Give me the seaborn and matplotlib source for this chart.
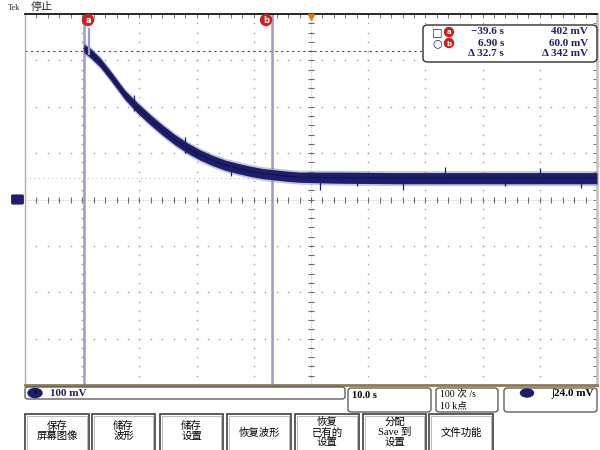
import numpy as np
import matplotlib
matplotlib.use("Agg")
import matplotlib.pyplot as plt
import seaborn as sns
from matplotlib.patches import FancyBboxPatch, Rectangle, Ellipse

sns.set_style("white")
plt.rcParams['font.family'] = ['Liberation Serif', 'Noto Sans CJK SC', 'DejaVu Sans']

W, H = 600, 450

# waveform: time (s), centre of trace (mV), noise half-width (mV)
trace_t = [-39.7, -38.5, -36.9, -35.1, -32.5, -30.3, -28.1, -26.0, -23.8, -21.6,
           -19.4, -17.2, -15.0, -12.8, -10.7, -8.5, -6.3, -4.0, -1.9, 5, 15, 25, 35, 45, 50]
trace_v = [326, 315, 296, 268, 225, 197, 172, 150, 129, 111,
           96, 84, 74, 67, 61, 56, 53, 50, 48, 47, 46, 46, 46, 46, 46]
trace_noise = [9, 10, 10, 10, 10, 11, 11, 11, 11, 11,
               11, 11, 11, 11, 11, 11, 11, 11, 11, 12, 12, 12, 12, 12, 12]

# isolated spikes (s, low mV, high mV)
spike_t = [1.6, 16.1, 23.4, 47.2, -14.0, 34.0, -31.0, -22.0, 8.0, 40.0]
spike_lo = [20, 20, 46, 25, 50, 30, 190, 100, 30, 46]
spike_hi = [46, 46, 70, 46, 78, 46, 225, 135, 46, 68]
glitch_t, glitch_lo, glitch_hi = -38.8, 311, 370

cursor_a, cursor_b = -39.6, -6.9
level_a, level_b = 320, 46

readout_rows = [("□", "a", "−39.6 s", "402 mV"),
                ("○", "b", "6.90 s", "60.0 mV"),
                ("", "", "Δ 32.7 s", "Δ 342 mV")]

buttons = ["保存\n屏幕图像", "储存\n波形", "储存\n设置", "恢复波形",
           "恢复\n已有的\n设置", "分配\nSave 到\n设置", "文件功能"]
button_x = [(25, 89), (92, 155), (160, 223), (227, 291), (295, 359), (363, 426), (429, 493)]

navy = "#1e1e6c"
lilac = "#9a9acc"


def px(x, y):
    return x / W, 1 - y / H


fig = plt.figure(figsize=(6, 4.5), dpi=100)
fig.patch.set_facecolor("white")
ax = fig.add_axes([25 / W, 1 - 385 / H, 572 / W, 371 / H])
ax.set_xlim(-50, 50)
ax.set_ylim(-400, 400)

# graticule
for gx in np.arange(-40, 41, 10):
    if gx == 0:
        continue
    ys = np.arange(-400, 401, 20)
    ax.plot([gx] * len(ys), ys, ls="none", marker="s", ms=1.0, color="#a09a90", mew=0)
for gy in np.arange(-300, 301, 100):
    if gy == 0:
        continue
    xs = np.arange(-50, 51, 2)
    ax.plot(xs, [gy] * len(xs), ls="none", marker="s", ms=1.0, color="#a09a90", mew=0)

# centre cross with minor ticks
ax.axhline(0, color="#b0aaa0", lw=0.6, ls=(0, (1, 2)))
ax.axvline(0, color="#b0aaa0", lw=0.6, ls=(0, (1, 2)))
xs = np.arange(-50, 51, 2)
ax.plot(xs, [0] * len(xs), ls="none", marker="|", ms=4, color="#706a60", mew=0.8)
ys = np.arange(-400, 401, 20)
ax.plot([0] * len(ys), ys, ls="none", marker="_", ms=4, color="#706a60", mew=0.8)

# cursors
ax.axhline(level_b, color="#c8c0a0", lw=0.8, ls=(0, (1, 3)), zorder=1)
ax.axhline(level_a, color="#404090", lw=0.8, ls=(0, (2, 3)), zorder=2)
ax.axvline(cursor_a, color=lilac, lw=1.8, zorder=2)
ax.axvline(cursor_b, color=lilac, lw=1.8, zorder=2)

# waveform
lo = np.array(trace_v) - np.array(trace_noise)
hi = np.array(trace_v) + np.array(trace_noise)
ax.fill_between(trace_t, lo - 4, hi + 4, color="#8a8ac4", alpha=0.5, lw=0, zorder=3)
ax.fill_between(trace_t, lo, hi, color=navy, lw=0, zorder=4)
sns.lineplot(x=trace_t, y=trace_v, ax=ax, color="#141450", lw=1.0, zorder=5)
ax.vlines(spike_t, spike_lo, spike_hi, color=navy, lw=0.9, zorder=5)
ax.vlines([glitch_t], [glitch_lo], [glitch_hi], color=lilac, lw=1.6, zorder=5)

# trigger marker
ax.plot([0], [393], marker="v", ms=5, color="#e07818", clip_on=False, zorder=6)

ax.set_xticks(np.arange(-50, 51, 10))
ax.set_yticks(np.arange(-400, 401, 100))
ax.set_xticks(np.arange(-50, 51, 2), minor=True)
ax.set_yticks(np.arange(-400, 401, 20), minor=True)
ax.tick_params(which="both", direction="in", length=3, width=0.7, color="#7a7468",
               top=True, right=True, labelleft=False, labelbottom=False)
ax.set_xlabel("")
ax.set_ylabel("")
ax.spines["top"].set_color("black")
ax.spines["top"].set_linewidth(1.2)
ax.spines["bottom"].set_color("#8c7c55")
ax.spines["bottom"].set_linewidth(2)
ax.spines["left"].set_color("#b8b0a0")
ax.spines["left"].set_linewidth(1)
ax.spines["right"].set_color("#c8c8c8")
ax.spines["right"].set_linewidth(2)

# cursor labels
for cx, letter in [(88, "a"), (266, "b")]:
    fig.add_artist(Ellipse(px(cx, 20), 11 / W, 11 / H, color="#cc2020", transform=fig.transFigure))
    fig.text(*px(cx, 20.5), letter, color="white", fontsize=6, fontweight="bold",
             ha="center", va="center", family="DejaVu Sans")

# header
fig.text(*px(8, 8), "Tek", fontsize=6, ha="left", va="center")
fig.text(*px(31, 7), "停止", fontsize=8, ha="left", va="center")

# ground marker
fig.add_artist(FancyBboxPatch(px(13, 203), 9 / W, 7 / H, boxstyle="round,pad=0.002",
                              color=navy, transform=fig.transFigure))

# readout box
x0, y1 = px(423, 62)
fig.add_artist(FancyBboxPatch((x0, y1), 174 / W, 37 / H, boxstyle="round,pad=0,rounding_size=0.008",
                              fc="white", ec="#303030", lw=1, transform=fig.transFigure))
for i, (shape, letter, tval, vval) in enumerate(readout_rows):
    ry = 32 + i * 11
    if shape:
        fig.text(*px(437, ry), shape, fontsize=8, color=navy, ha="center", va="center",
                 family="DejaVu Sans")
        fig.add_artist(Ellipse(px(449, ry), 9 / W, 9 / H, color="#cc2020", transform=fig.transFigure))
        fig.text(*px(449, ry + 0.5), letter, color="white", fontsize=5, fontweight="bold",
                 ha="center", va="center", family="DejaVu Sans")
    fig.text(*px(504, ry), tval, fontsize=8, color=navy, ha="right", va="center", fontweight="bold")
    fig.text(*px(588, ry), vval, fontsize=8, color=navy, ha="right", va="center", fontweight="bold")

# status bar
def box(x_a, y_a, x_b, y_b, r=0.006, ec="#505050"):
    xa, yb = px(x_a, y_b)
    fig.add_artist(FancyBboxPatch((xa, yb), (x_b - x_a) / W, (y_b - y_a) / H,
                                  boxstyle=f"round,pad=0,rounding_size={r}",
                                  fc="white", ec=ec, lw=0.9, transform=fig.transFigure))

box(25, 387, 345, 399, r=0.005)
fig.add_artist(Ellipse(px(35, 393), 14 / W, 9 / H, color=navy, transform=fig.transFigure))
fig.text(*px(35, 393), "1", fontsize=5, color="black", ha="center", va="center", fontweight="bold")
fig.text(*px(50, 393), "100 mV", fontsize=8, color=navy, ha="left", va="center", fontweight="bold")

box(348, 388, 431, 412)
fig.text(*px(352, 396), "10.0 s", fontsize=7.5, color="black", ha="left", va="center", fontweight="bold")

box(436, 388, 498, 412)
fig.text(*px(440, 395), "100 次 /s", fontsize=7, color="black", ha="left", va="center")
fig.text(*px(440, 406), "10 k点", fontsize=7, color="black", ha="left", va="center")

box(504, 388, 597, 412)
fig.add_artist(Ellipse(px(527, 393), 13 / W, 8 / H, color=navy, transform=fig.transFigure))
fig.text(*px(594, 394), "∫24.0 mV", fontsize=8, color="black", ha="right", va="center", fontweight="bold")

# soft-key menu
for label, (bx0, bx1) in zip(buttons, button_x):
    xa, yb = px(bx0, 455)
    fig.add_artist(Rectangle((xa, yb), (bx1 - bx0) / W, 41 / H, fc="white", ec="#404040",
                             lw=1.2, transform=fig.transFigure))
    fig.add_artist(Rectangle(px(bx0 + 2, 455), (bx1 - bx0 - 4) / W, 39 / H, fc="none", ec="#b0b0b0",
                             lw=0.6, transform=fig.transFigure))
    n = label.count("\n") + 1
    cy = 433 if n == 1 else (431 if n == 2 else 432)
    fig.text(*px((bx0 + bx1) / 2, cy), label, fontsize=7.5, color="black", ha="center", va="center",
             linespacing=1.05)

fig.savefig("out.png", dpi=100)
